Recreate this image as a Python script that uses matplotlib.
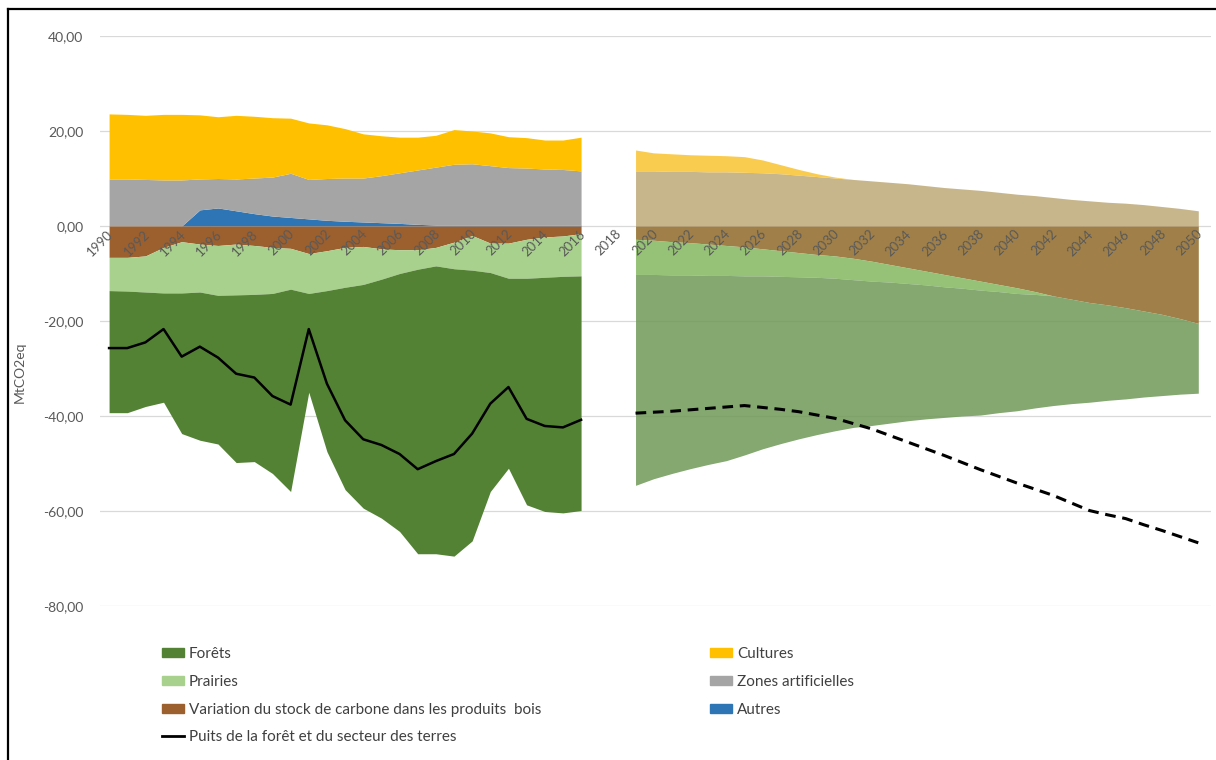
import numpy as np
import matplotlib.pyplot as plt
from matplotlib.patches import Patch
from matplotlib.lines import Line2D
from matplotlib import transforms

plt.rcParams['font.family'] = ['Lato', 'DejaVu Sans']

# historique 1990-2016
annees_hist = list(range(1990, 2017))
autres = [0, 0, 0, 0, 0, 3.4, 3.8, 3.2, 2.6, 2.1, 1.8, 1.5, 1.2, 1.0, 0.85, 0.7, 0.55, 0.35,
          0.2, 0.2, 0.2, 0.2, 0.2, 0.2, 0.2, 0.2, 0.2]
zones = [9.9, 9.9, 9.8, 9.7, 9.7, 6.5, 6.2, 6.7, 7.5, 8.2, 9.3, 8.3, 8.8, 9.1, 9.25, 9.9, 10.65,
         11.45, 12.2, 12.8, 12.9, 12.5, 12.1, 12.0, 11.8, 11.7, 11.4]
cultures = [13.7, 13.6, 13.5, 13.8, 13.8, 13.5, 13.0, 13.4, 13.0, 12.5, 11.6, 11.9, 11.3, 10.4,
            9.3, 8.4, 7.5, 6.9, 6.7, 7.3, 6.9, 6.9, 6.5, 6.4, 6.1, 6.2, 7.1]
bois = [-6.6, -6.6, -6.3, -4.5, -3.3, -3.8, -4.1, -3.8, -4.1, -4.5, -4.7, -5.8, -5.2, -4.5, -4.3,
        -4.8, -5.0, -5.0, -4.5, -3.4, -2.0, -3.6, -3.6, -2.8, -2.3, -2.1, -1.6]
prairies = [-7.0, -7.1, -7.6, -9.6, -10.8, -10.1, -10.5, -10.7, -10.3, -9.7, -8.6, -8.4, -8.4,
            -8.4, -8.0, -6.4, -5.0, -4.1, -3.9, -5.6, -7.3, -6.2, -7.4, -8.2, -8.5, -8.5, -8.9]
forets = [-25.7, -25.6, -24.1, -23.0, -29.6, -31.2, -31.3, -35.3, -35.2, -37.9, -42.6, -20.8,
          -33.9, -42.6, -47.1, -50.3, -54.3, -59.9, -60.6, -60.5, -57.0, -46.1, -40.0, -47.7,
          -49.3, -49.8, -49.4]
puits = [-25.7, -25.7, -24.5, -21.7, -27.5, -25.4, -27.7, -31.1, -31.9, -35.8, -37.6, -21.7,
         -33.2, -40.9, -44.9, -46.1, -48.0, -51.2, -49.5, -48.0, -43.7, -37.4, -33.9, -40.6,
         -42.1, -42.4, -40.8]

# projection 2019-2050
annees_proj = list(range(2019, 2051))
cultures_p = [4.4, 3.8, 3.7, 3.5, 3.5, 3.4, 3.3, 2.7, 1.9, 1.2, 0.6, 0.2] + [0] * 20
zones_p = [11.6, 11.6, 11.5, 11.5, 11.4, 11.4, 11.3, 11.2, 11.0, 10.7, 10.4, 10.1, 9.8, 9.5, 9.2,
           8.9, 8.5, 8.1, 7.8, 7.5, 7.1, 6.7, 6.4, 6.0, 5.6, 5.3, 5.0, 4.8, 4.5, 4.1, 3.7, 3.2]
bois_p = [-2.8, -3.0, -3.3, -3.5, -3.8, -4.1, -4.4, -4.8, -5.2, -5.6, -6.0, -6.3, -6.8, -7.4,
          -8.1, -8.8, -9.5, -10.2, -10.9, -11.6, -12.3, -13.0, -13.8, -14.7, -15.4, -16.1,
          -16.6, -17.2, -17.9, -18.6, -19.5, -20.5]
prairies_p = [-7.4, -7.2, -7.0, -6.8, -6.6, -6.3, -6.1, -5.7, -5.4, -5.1, -4.8, -4.7, -4.5, -4.2,
              -3.7, -3.3, -2.9, -2.6, -2.2, -1.9, -1.5, -1.2, -0.6] + [0] * 9
forets_p = [-44.4, -43.0, -41.8, -40.8, -39.8, -39.0, -37.7, -36.4, -35.2, -34.1, -33.1, -32.1,
            -31.1, -30.4, -29.7, -28.9, -28.2, -27.5, -26.9, -26.3, -25.5, -24.7, -23.9, -23.1,
            -22.0, -21.0, -20.1, -19.2, -18.1, -17.1, -15.9, -14.7]
puits_p = [-39.4, -39.2, -39.0, -38.7, -38.4, -38.1, -37.8, -38.2, -38.6, -39.1, -39.8, -40.5,
           -41.6, -42.7, -44.1, -45.5, -46.9, -48.3, -49.8, -51.3, -52.7, -54.1, -55.4, -56.7,
           -58.3, -59.9, -60.8, -61.6, -62.9, -64.1, -65.4, -66.7]

c_forets, c_prairies, c_bois = '#548235', '#A9D18E', '#9C5F2E'
c_cultures, c_zones, c_autres = '#FFC000', '#A5A5A5', '#2E75B6'

fig = plt.figure(figsize=(12.16, 7.6), dpi=100)
ax = fig.add_axes([100 / 1216, 154 / 760, 1111 / 1216, 570 / 760])

# aires historiques (positif / négatif empilés séparément)
x = np.array(annees_hist)
p1 = np.array(autres)
p2 = p1 + np.array(zones)
p3 = p2 + np.array(cultures)
n1 = np.array(bois)
n2 = n1 + np.array(prairies)
n3 = n2 + np.array(forets)
ax.fill_between(x, 0, p1, color=c_autres, lw=0)
ax.fill_between(x, p1, p2, color=c_zones, lw=0)
ax.fill_between(x, p2, p3, color=c_cultures, lw=0)
ax.fill_between(x, 0, n1, color=c_bois, lw=0)
ax.fill_between(x, n1, n2, color=c_prairies, lw=0)
ax.fill_between(x, n2, n3, color=c_forets, lw=0)
ax.plot(x, puits, color='black', lw=1.8, zorder=5)

# aires projetées (plus claires, un peu transparentes)
xp = np.array(annees_proj)
q1 = np.array(zones_p)
q2 = q1 + np.array(cultures_p)
m1 = np.array(bois_p)
m2 = m1 + np.array(prairies_p)
m3 = m2 + np.array(forets_p)
ax.fill_between(xp, 0, q1, color='#BEA978', alpha=0.85, lw=0)
ax.fill_between(xp, q1, q2, color='#F9C431', alpha=0.85, lw=0)
ax.fill_between(xp, 0, m1, color='#8F6A28', alpha=0.85, lw=0)
ax.fill_between(xp, m1, m2, color='#83B85E', alpha=0.85, lw=0)
ax.fill_between(xp, m2, m3, color='#6E9957', alpha=0.85, lw=0)
ax.plot(xp, puits_p, color='black', lw=2.2, ls=(0, (3.5, 2.2)), zorder=5)

ax.set_xlim(1989.5, 2050.7)
ax.set_ylim(-80, 40)
ax.set_yticks(range(-80, 41, 20))
ax.set_yticklabels([f"{v:.2f}".replace('.', ',') for v in range(-80, 41, 20)])
ax.tick_params(axis='y', length=0, pad=12, labelsize=10, labelcolor='#595959')
ax.set_xticks([])
ax.yaxis.grid(True, color='#D9D9D9', lw=0.9)
ax.set_axisbelow(True)
for s in ax.spines.values():
    s.set_visible(False)

# étiquettes des années sur l'axe du zéro
decal = transforms.offset_copy(ax.transData, fig=fig, x=2, y=-6, units='dots')
for a in range(1990, 2051, 2):
    ax.text(a, 0, str(a), rotation=45, ha='right', va='center', rotation_mode='anchor',
            fontsize=9.5, color='#595959', transform=decal, zorder=6)

fig.text(20 / 1216, 1 - 372 / 760, 'MtCO2eq', rotation=90, ha='center', va='center',
         fontsize=10, color='#595959')

# légende en deux colonnes
h1 = [Patch(color=c_forets), Patch(color=c_prairies), Patch(color=c_bois),
      Line2D([], [], color='black', lw=2)]
l1 = ['Forêts', 'Prairies', 'Variation du stock de carbone dans les produits  bois',
      'Puits de la forêt et du secteur des terres']
h2 = [Patch(color=c_cultures), Patch(color=c_zones), Patch(color=c_autres)]
l2 = ['Cultures', 'Zones artificielles', 'Autres']
opts = dict(loc='upper left', frameon=False, fontsize=11, handlelength=1.45, handleheight=0.55,
            handletextpad=0.3, labelspacing=0.9, labelcolor='#404040', borderaxespad=0)
fig.legend(h1, l1, bbox_to_anchor=(156 / 1216, 1 - 641 / 760), **opts)
fig.legend(h2, l2, bbox_to_anchor=(704 / 1216, 1 - 641 / 760), **opts)

# cadre
fig.add_artist(Line2D([8 / 1216, 8 / 1216], [0, 1 - 9 / 760], transform=fig.transFigure,
                      color='black', lw=1.6))
fig.add_artist(Line2D([8 / 1216, 1], [1 - 9 / 760, 1 - 9 / 760], transform=fig.transFigure,
                      color='black', lw=1.6))

fig.savefig('out.png', dpi=100)
